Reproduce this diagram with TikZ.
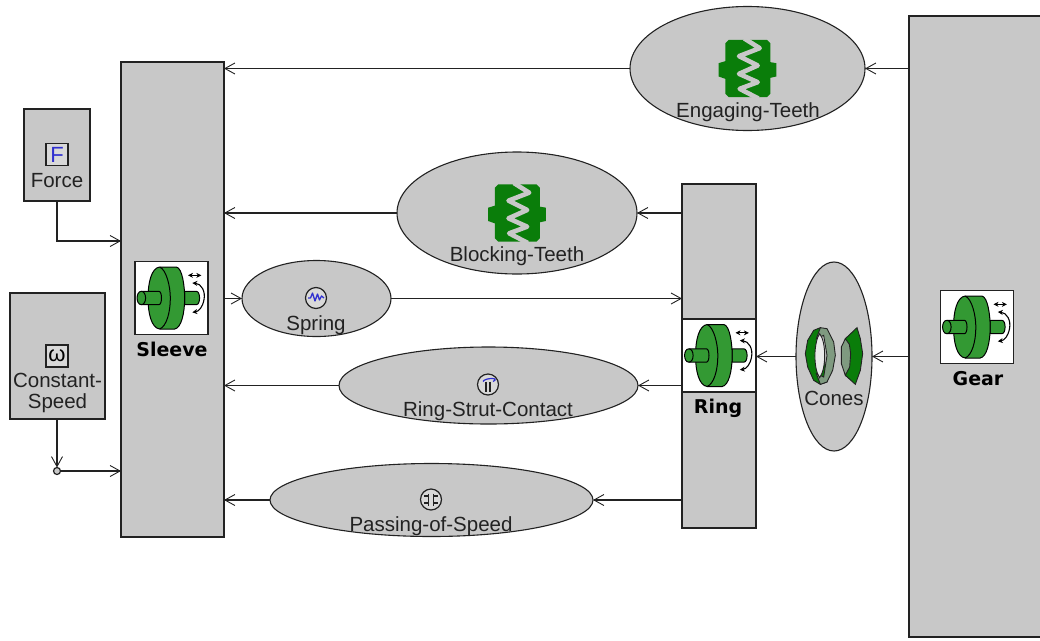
\documentclass[tikz,border=0pt]{standalone}
\usepackage{fontspec}
\setmainfont{Liberation Sans}
\newfontfamily\heavyfont[Scale=1]{DejaVu Sans Bold}
\usetikzlibrary{shapes.geometric,arrows.meta}
\definecolor{panel}{HTML}{C8C8C8}
\definecolor{edge}{HTML}{222222}
\definecolor{wheelgreen}{HTML}{339933}
\definecolor{teethgreen}{HTML}{0A7D0A}
\definecolor{conegrey}{HTML}{7F9A80}
\definecolor{iconblue}{HTML}{3030D0}
\tikzset{
  block/.style={draw=edge,fill=panel,line width=1.1pt,rectangle,inner sep=0pt,outer sep=0pt},
  oval/.style={draw=edge,fill=panel,line width=1.1pt,ellipse,inner sep=0pt,outer sep=0pt},
  iconbox/.style={draw=edge,fill=white,line width=1.2pt,rectangle,minimum width=73pt,minimum height=73pt,inner sep=0pt,outer sep=0pt},
  lab/.style={text=edge,font=\fontsize{20.5}{21}\selectfont,align=center,inner sep=0pt},
  heavylab/.style={text=black,font=\heavyfont\fontsize{19}{20}\selectfont,inner sep=0pt},
  flow/.style={draw=edge,line width=1.2pt,-{Straight Barb[length=10pt,width=11pt,line width=.9pt]}},
  smallsq/.style={draw=edge,fill=panel!70!white,line width=1.2pt,minimum width=22pt,minimum height=22pt,inner sep=0pt,outer sep=0pt,font=\fontsize{22}{22}\selectfont},
  smallci/.style={draw=edge,fill=panel!70!white,circle,line width=1.2pt,minimum size=21pt,inner sep=0pt,outer sep=0pt},
  wheel/.pic={
    \begin{scope}[x=.3333pt,y=-.3333pt,shift={(-515.5,-595)},draw=black,line width=1pt]
      \filldraw[fill=wheelgreen] (555,575) -- (590,575) .. controls (603,575) and (603,615) .. (590,615) -- (555,615) -- cycle;
      \filldraw[fill=wheelgreen] (480,502) -- (530,502) .. controls (548,505) and (555,560) .. (555,595) .. controls (555,640) and (545,685) .. (525,688) -- (480,688) .. controls (455,685) and (445,640) .. (445,595) .. controls (445,550) and (455,505) .. (480,502) -- cycle;
      \draw (480,502) .. controls (500,510) and (512,560) .. (512,595) .. controls (512,640) and (500,680) .. (480,688);
      \filldraw[fill=wheelgreen] (425,575) -- (478,575) .. controls (488,575) and (488,615) .. (478,615) -- (425,615) .. controls (408,615) and (408,575) .. (425,575) -- cycle;
      \draw (425,575) .. controls (442,575) and (442,615) .. (425,615);
      \draw[line width=1.1pt,{Stealth[length=5pt,width=5pt]}-{Stealth[length=5pt,width=5pt]}] (565,527) -- (605,527);
      \draw[line width=1.1pt,{Stealth[length=5pt,width=5pt]}-{Stealth[length=5pt,width=5pt]}] (578,550) .. controls (605,552) and (618,575) .. (613,600) .. controls (609,622) and (598,635) .. (578,638);
    \end{scope}
  },
  teeth/.pic={
    \begin{scope}[x=.3333pt,y=-.3333pt,shift={(-381.5,-204)}]
      \fill[teethgreen] (325,118) -- (440,118) -- (450,128) -- (450,185) -- (468,188) -- (468,228) -- (450,232) -- (450,280) -- (440,290) -- (325,290) -- (315,280) -- (315,235) -- (295,228) -- (295,188) -- (315,182) -- (315,128) -- cycle;
      \draw[panel,line width=4.6pt,line join=round] (372,114) -- (418,143) -- (356,167) -- (412,195) -- (356,220) -- (412,245) -- (358,265) -- (414,294);
    \end{scope}
  },
  cones/.pic={
    \begin{scope}[x=.3333pt,y=-.3333pt,shift={(-491,-257)},draw=edge,line width=.9pt]
      \filldraw[fill=teethgreen] (450,172) -- (430,180) -- (412,210) -- (405,250) -- (412,290) -- (430,330) -- (450,342) -- (470,335) -- cycle;
      \filldraw[fill=conegrey] (450,172) -- (470,175) -- (490,215) -- (495,255) -- (487,300) -- (470,335) -- (450,342) -- (438,310) -- (460,320) -- (470,255) -- (460,195) -- (438,205) -- cycle;
      \filldraw[fill=panel!40!white] (448,190) .. controls (430,215) and (428,295) .. (448,322) .. controls (468,295) and (468,215) .. (448,190) -- cycle;
      \filldraw[fill=teethgreen] (560,172) -- (570,205) -- (577,250) -- (570,300) -- (555,342) -- (525,315) -- (525,205) -- cycle;
      \filldraw[fill=conegrey] (525,205) -- (513,230) -- (513,280) -- (525,315) -- (538,290) -- (541,250) -- (537,222) -- cycle;
    \end{scope}
  }
}
\begin{document}
\begin{tikzpicture}[x=1pt,y=-1pt]
\useasboundingbox (0,0) rectangle (1040,640);
% blocks
\node[block,minimum width=103pt,minimum height=475pt] (sleeve) at (172.5,299.5) {};
\node[block,minimum width=66pt,minimum height=92pt] (force) at (57,155) {};
\node[block,minimum width=95pt,minimum height=126pt] (const) at (57.5,356) {};
\node[block,minimum width=133pt,minimum height=621pt] (gear) at (975.5,326.5) {};
\node[block,minimum width=74pt,minimum height=344pt] (ring) at (719,356) {};
% ovals
\node[oval,minimum width=235pt,minimum height=124pt] (engage) at (747.5,68.5) {};
\node[oval,minimum width=240pt,minimum height=122pt] (blocking) at (517,213) {};
\node[oval,minimum width=149pt,minimum height=76pt] (spring) at (316.5,298.5) {};
\node[oval,minimum width=299pt,minimum height=77pt] (strut) at (488.5,385.5) {};
\node[oval,minimum width=323pt,minimum height=73pt] (passing) at (431.5,500) {};
\node[oval,minimum width=76pt,minimum height=189pt] (conesov) at (834,356.5) {};
% icon boxes
\node[iconbox] (sleeveicon) at (171.5,298) {};
\node[iconbox] (gearicon) at (977,327) {};
\node[iconbox,minimum width=74pt] (ringicon) at (719,355.5) {};
\pic at (sleeveicon) {wheel};
\pic at (gearicon) {wheel};
\pic at (ringicon) {wheel};
\pic at (engage) {teeth};
\pic at (blocking) {teeth};
\pic at (834,356) {cones};
% small icons
\node[smallsq,text=iconblue] (ficon) at (57,154.5) {F};
\node[smallsq,text=black] (wicon) at (57,356) {ω};
\node[smallci] (springicon) at (316,298) {};
\draw[iconblue,line width=1.3pt,line join=round] ([xshift=-8pt]springicon.center) -- ++(2.5,0) -- ++(2,-5) -- ++(2.5,8) -- ++(2.5,-7) -- ++(2,6) -- ++(2,-4) -- ++(2.5,2);
\node[smallci] (struticon) at (488,384.5) {};
\draw[edge,line width=1.2pt] ([shift={(-2,-3)}]struticon.center) -- ++(0,10) ([shift={(2,-3)}]struticon.center) -- ++(0,10);
\draw[iconblue,line width=1.2pt] ([shift={(-5,-3)}]struticon.center) .. controls ++(2,-4) and ++(8,-4) .. ++(10,0);
\node[smallci] (passicon) at (431,499.5) {};
\draw[edge,line width=1.6pt] ([shift={(-7,-3.5)}]passicon.center) -- ++(5,0) ([shift={(-7,3.5)}]passicon.center) -- ++(5,0) ([shift={(2,-3.5)}]passicon.center) -- ++(5,0) ([shift={(2,3.5)}]passicon.center) -- ++(5,0) ([shift={(-2.5,-6)}]passicon.center) -- ++(0,12) ([shift={(2.5,-6)}]passicon.center) -- ++(0,12);
% labels
\node[lab] (t1) at (748,112) {Engaging-Teeth};
\node[lab] (t2) at (517,256) {Blocking-Teeth};
\node[lab] (t3) at (316,325) {Spring};
\node[lab] (t4) at (488,411) {Ring-Strut-Contact};
\node[lab] (t5) at (431,526) {Passing-of-Speed};
\node[lab] (t6) at (834,398) {Cones};
\node[lab] (t7) at (57,181) {Force};
\node[lab] (t8) at (57.5,392.5) {Constant-\\Speed};
\node[heavylab] (t9) at (172,349.5) {Sleeve};
\node[heavylab] (t10) at (978,378.5) {Gear};
\node[heavylab] (t11) at (718,408) {Ring};
% connectors
\node[draw=edge,fill=panel,line width=1.2pt,circle,minimum size=7pt,inner sep=0pt,outer sep=0pt] (junction) at (57,471) {};
\coordinate (forcelevel) at (0,241);
\draw[flow] (gear.west |- engage) -- (engage.east);
\draw[flow] (engage.west) -- (sleeve.east |- engage);
\draw[flow] (ring.west |- blocking) -- (blocking.east);
\draw[flow] (blocking.west) -- (sleeve.east |- blocking);
\draw[flow] (sleeve.east |- spring) -- (spring.west);
\draw[flow] (spring.east) -- (ring.west |- spring);
\draw[flow] (ring.west |- strut) -- (strut.east);
\draw[flow] (strut.west) -- (sleeve.east |- strut);
\draw[flow] (ring.west |- passing) -- (passing.east);
\draw[flow] (passing.west) -- (sleeve.east |- passing);
\draw[flow] (gear.west |- conesov) -- (conesov.east);
\draw[flow] (conesov.west) -- (ring.east |- conesov);
\draw[flow] (force.south) |- (sleeve.west |- forcelevel);
\draw[flow] (const.south -| junction) -- (junction.north);
\draw[flow] (junction.east) -- (sleeve.west |- junction);
\end{tikzpicture}
\end{document}
